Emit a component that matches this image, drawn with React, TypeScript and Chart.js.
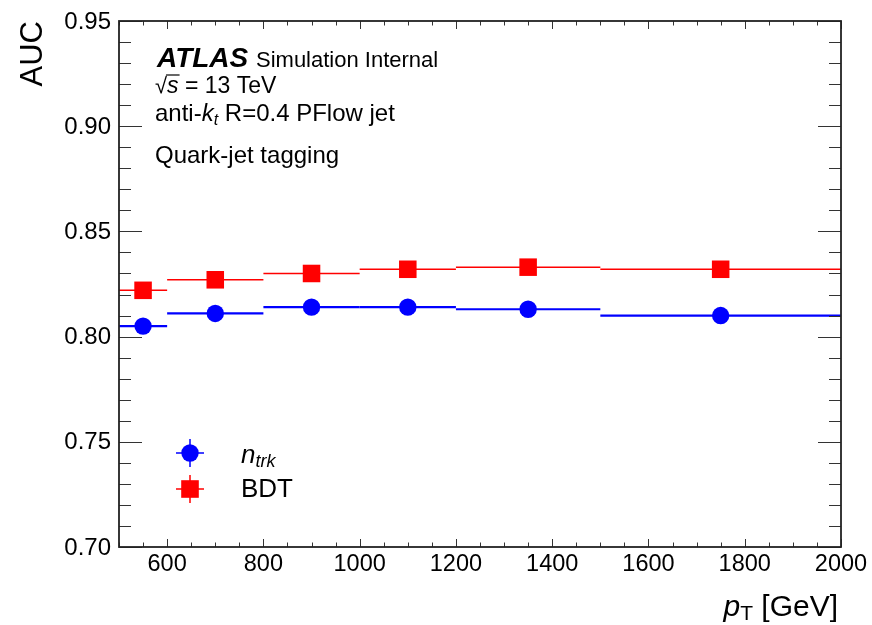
import React, { useEffect, useRef } from "react";
import { Chart, registerables } from "chart.js";

Chart.register(...registerables);

// ---- data ----
const binLow = [500, 600, 800, 1000, 1200, 1500];
const binHigh = [600, 800, 1000, 1200, 1500, 2000];
const binCenter = [550, 700, 900, 1100, 1350, 1750];
const ntrkAUC = [0.805, 0.811, 0.814, 0.814, 0.813, 0.810];
const bdtAUC = [0.822, 0.827, 0.830, 0.832, 0.833, 0.832];

const xMajorTicks = [600, 800, 1000, 1200, 1400, 1600, 1800, 2000];
const xTickLabels = ["600", "800", "1000", "1200", "1400", "1600", "1800", "2000"];
const yMajorTicks = [0.7, 0.75, 0.8, 0.85, 0.9, 0.95];
const yTickLabels = ["0.70", "0.75", "0.80", "0.85", "0.90", "0.95"];
const xMinorStep = 50;
const yMinorStep = 0.01;

const FONT = "'Liberation Sans', Arial, Helvetica, sans-serif";

type Run = { text: string; font: string; dy?: number };

function runsWidth(ctx: CanvasRenderingContext2D, runs: Run[]) {
  let w = 0;
  for (const r of runs) {
    ctx.font = r.font;
    w += ctx.measureText(r.text).width;
  }
  return w;
}

function drawRuns(ctx: CanvasRenderingContext2D, x: number, y: number, runs: Run[]) {
  let cx = x;
  ctx.textAlign = "left";
  ctx.textBaseline = "alphabetic";
  const pos: number[] = [];
  for (const r of runs) {
    ctx.font = r.font;
    pos.push(cx);
    ctx.fillText(r.text, cx, y + (r.dy || 0));
    cx += ctx.measureText(r.text).width;
  }
  pos.push(cx);
  return pos;
}

const atlasPlugin = {
  id: "atlasStyle",
  beforeDatasetsDraw(chart: any) {
    const { ctx, chartArea } = chart;
    const xs = chart.scales.x;
    const ys = chart.scales.y;
    ctx.save();
    ctx.beginPath();
    ctx.rect(chartArea.left, chartArea.top, chartArea.right - chartArea.left, chartArea.bottom - chartArea.top);
    ctx.clip();
    chart.data.datasets.forEach((ds: any) => {
      ctx.strokeStyle = ds.errColor;
      ctx.lineWidth = ds.errWidth;
      ds.data.forEach((p: any) => {
        const py = ys.getPixelForValue(p.y);
        ctx.beginPath();
        ctx.moveTo(xs.getPixelForValue(p.xMin), py);
        ctx.lineTo(xs.getPixelForValue(p.xMax), py);
        ctx.stroke();
      });
    });
    ctx.restore();
  },
  afterDraw(chart: any) {
    const { ctx, chartArea } = chart;
    const xs = chart.scales.x;
    const ys = chart.scales.y;
    const { left, right, top, bottom } = chartArea;
    ctx.save();

    // ticks
    ctx.strokeStyle = "#333";
    ctx.lineWidth = 1;
    const xMin = xs.min, xMax = xs.max, yMin = ys.min, yMax = ys.max;
    for (let v = xMin; v <= xMax + 1e-9; v += xMinorStep) {
      const px = Math.round(xs.getPixelForValue(v)) + 0.5;
      const major = xMajorTicks.some((t) => Math.abs(t - v) < 1e-6);
      const len = major ? 8 : 4.5;
      ctx.beginPath();
      ctx.moveTo(px, bottom);
      ctx.lineTo(px, bottom - len);
      ctx.moveTo(px, top);
      ctx.lineTo(px, top + len);
      ctx.stroke();
    }
    for (let i = 0; ; i++) {
      const v = yMin + i * yMinorStep;
      if (v > yMax + 1e-9) break;
      const py = Math.round(ys.getPixelForValue(v)) + 0.5;
      const major = yMajorTicks.some((t) => Math.abs(t - v) < 1e-6);
      const len = major ? 23 : 12;
      ctx.beginPath();
      ctx.moveTo(left, py);
      ctx.lineTo(left + len, py);
      ctx.moveTo(right, py);
      ctx.lineTo(right - len, py);
      ctx.stroke();
    }

    // frame
    ctx.strokeStyle = "#222";
    ctx.lineWidth = 1.8;
    ctx.strokeRect(left, top, right - left, bottom - top);

    // tick labels
    ctx.fillStyle = "#000";
    ctx.font = `23.5px ${FONT}`;
    ctx.textAlign = "center";
    ctx.textBaseline = "alphabetic";
    xMajorTicks.forEach((t, i) => {
      ctx.fillText(xTickLabels[i], xs.getPixelForValue(t), 571);
    });
    ctx.font = `24px ${FONT}`;
    ctx.textAlign = "right";
    ctx.textBaseline = "middle";
    yMajorTicks.forEach((t, i) => {
      ctx.fillText(yTickLabels[i], left - 8, ys.getPixelForValue(t) + 1);
    });

    // axis titles
    ctx.save();
    ctx.translate(42, top);
    ctx.rotate(-Math.PI / 2);
    ctx.font = `31px ${FONT}`;
    ctx.textAlign = "right";
    ctx.textBaseline = "alphabetic";
    ctx.fillText("AUC", 0, 0);
    ctx.restore();

    const ptRuns: Run[] = [
      { text: "p", font: `italic 30px ${FONT}` },
      { text: "T", font: `21px ${FONT}`, dy: 4 },
      { text: " [GeV]", font: `30px ${FONT}` },
    ];
    const ptW = runsWidth(ctx, ptRuns);
    drawRuns(ctx, 838 - ptW, 616, ptRuns);

    // ATLAS label
    const tx = 155;
    ctx.font = `bold italic 28px ${FONT}`;
    ctx.textAlign = "left";
    ctx.textBaseline = "alphabetic";
    ctx.fillText("ATLAS", 157, 67);
    ctx.font = `22px ${FONT}`;
    ctx.fillText("Simulation Internal", 256, 67);

    // sqrt(s) = 13 TeV
    const pos = drawRuns(ctx, tx, 93, [
      { text: "\u221A", font: `22px ${FONT}` },
      { text: "s", font: `italic 23px ${FONT}` },
      { text: " = 13 TeV", font: `23px ${FONT}` },
    ]);
    ctx.strokeStyle = "#000";
    ctx.lineWidth = 1.2;
    ctx.beginPath();
    ctx.moveTo(pos[1] - 1, 93 - 18);
    ctx.lineTo(pos[2] + 1, 93 - 18);
    ctx.stroke();

    drawRuns(ctx, tx, 121, [
      { text: "anti-", font: `24px ${FONT}` },
      { text: "k", font: `italic 24px ${FONT}` },
      { text: "t", font: `italic 16px ${FONT}`, dy: 4 },
      { text: " R=0.4 PFlow jet", font: `24px ${FONT}` },
    ]);
    ctx.font = `24px ${FONT}`;
    ctx.fillText("Quark-jet tagging", tx, 163);

    // legend
    const legendItems = chart.data.datasets;
    const lx = 190;
    const lys = [453, 489];
    legendItems.forEach((ds: any, i: number) => {
      const ly = lys[i];
      ctx.strokeStyle = ds.errColor;
      ctx.lineWidth = 1.5;
      ctx.beginPath();
      ctx.moveTo(lx - 14, ly);
      ctx.lineTo(lx + 14, ly);
      ctx.moveTo(lx, ly - 14);
      ctx.lineTo(lx, ly + 14);
      ctx.stroke();
      ctx.fillStyle = ds.backgroundColor;
      if (ds.pointStyle === "rect") {
        ctx.fillRect(lx - 8.8, ly - 8.8, 17.6, 17.6);
      } else {
        ctx.beginPath();
        ctx.arc(lx, ly, 8.7, 0, Math.PI * 2);
        ctx.fill();
      }
    });
    ctx.fillStyle = "#000";
    drawRuns(ctx, 241, 463, [
      { text: "n", font: `italic 26px ${FONT}` },
      { text: "trk", font: `italic 18px ${FONT}`, dy: 4 },
    ]);
    ctx.font = `26px ${FONT}`;
    ctx.fillText(legendItems[1].label, 241, 497);

    ctx.restore();
  },
};

export default function App() {
  const ref = useRef<HTMLCanvasElement | null>(null);
  useEffect(() => {
    const prevMargin = document.body.style.margin;
    document.body.style.margin = "0";
    const canvas = ref.current!;
    const mk = (vals: number[]) =>
      binCenter.map((c, i) => ({ x: c, y: vals[i], xMin: binLow[i], xMax: binHigh[i] }));
    const chart = new Chart(canvas, {
      type: "scatter",
      data: {
        datasets: [
          {
            label: "n_trk",
            data: mk(ntrkAUC) as any,
            backgroundColor: "#0000ff",
            borderColor: "#0000ff",
            pointStyle: "circle",
            pointRadius: 8.7,
            pointBorderWidth: 0,
            errColor: "#0000ff",
            errWidth: 2.2,
          } as any,
          {
            label: "BDT",
            data: mk(bdtAUC) as any,
            backgroundColor: "#ff0000",
            borderColor: "#ff0000",
            pointStyle: "rect",
            pointRadius: 12.4,
            pointBorderWidth: 0,
            errColor: "#ff0000",
            errWidth: 1.5,
          } as any,
        ],
      },
      options: {
        animation: false,
        responsive: false,
        devicePixelRatio: 1,
        layout: { padding: { left: 119, right: 31, top: 21, bottom: 78 } },
        plugins: { legend: { display: false }, tooltip: { enabled: false } },
        scales: {
          x: {
            type: "linear",
            min: 500,
            max: 2000,
            grid: { display: false, drawTicks: false, tickLength: 0 },
            border: { display: false },
            ticks: { display: false, padding: 0 },
          },
          y: {
            type: "linear",
            min: 0.7,
            max: 0.95,
            grid: { display: false, drawTicks: false, tickLength: 0 },
            border: { display: false },
            ticks: { display: false, padding: 0 },
          },
        },
      },
      plugins: [atlasPlugin],
    });
    return () => {
      chart.destroy();
      document.body.style.margin = prevMargin;
    };
  }, []);
  return (
    <div style={{ position: "absolute", left: 0, top: 0, width: 872, height: 625, background: "#fff" }}>
      <canvas ref={ref} width={872} height={625} style={{ display: "block" }} />
    </div>
  );
}
